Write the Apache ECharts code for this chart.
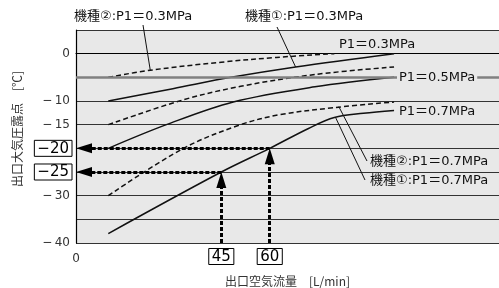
<!DOCTYPE html>
<html lang="ja">
<head>
<meta charset="UTF-8">
<title>出口大気圧露点</title>
<script src="https://cdn.jsdelivr.net/npm/echarts@6/dist/echarts.min.js"></script>
<style>
html, body { margin: 0; padding: 0; background: #fff; }
#chart { width: 499px; height: 288px; }
</style>
</head>
<body>
<div id="chart"></div>
<script>
// 出口空気流量 [L/min] / 出口大気圧露点 [℃]
const flowMin = 0;
const flowMax = 131;
const dewMin = -40;
const dewMax = 5;
const flowLabels = [0];
const flowBoxed = [45, 60];
const dewLabels = [0, -10, -15, -30, -40];
const dewBoxed = [-20, -25];

// 機種② : dashed, 機種① : solid
const model2P03 = [[10, -5], [23, -3.5], [45, -1.8], [62, -0.8], [80, 0]];
const model1P03 = [[10, -10], [30, -7.4], [48, -5], [68, -2.8], [98.5, 0]];
const model2P05 = [[10, -15], [33, -9.8], [51, -6.9], [74, -4.4], [98.5, -2.8]];
const model1P05 = [[10, -20], [28, -15], [48.7, -10.2], [74, -7.0], [98.5, -5]];
const model2P07 = [[10, -30], [33.3, -20], [51, -15], [63, -12.9], [80, -11.4], [98.5, -10.2]];
const model1P07 = [[10, -38], [45, -25], [60, -20], [72, -15.8], [80, -13.5], [89, -12.6], [98.5, -12.0]];

// 読み取り例
const readFlows = [45, 60];
const readDews = [-25, -20];

const chart = echarts.init(document.getElementById('chart'));
const gridLeft = 76, gridTop = 30, gridW = 423, gridH = 213;
const pxPerFlow = gridW / (flowMax - flowMin);
const pxPerDew = gridH / (dewMax - dewMin);
const arrowHalf = 8;
const latin = 'DejaVu Sans, Noto Sans CJK JP';

function curve(data, dashed) {
  return {
    type: 'line',
    data: data,
    smooth: 0.35,
    symbol: 'none',
    silent: true,
    lineStyle: { color: '#111', width: 1.5, type: dashed ? [5, 3] : 'solid' }
  };
}

const arrowLines = [];
readFlows.forEach(function (f, i) {
  arrowLines.push([{ coord: [f, readDews[i]] }, { coord: [flowMin + arrowHalf / pxPerFlow, readDews[i]] }]);
  arrowLines.push([{ coord: [f, dewMin] }, { coord: [f, readDews[i] - arrowHalf / pxPerDew] }]);
});

chart.setOption({
  animation: false,
  grid: {
    left: gridLeft, top: gridTop, width: gridW, height: gridH,
    outerBoundsMode: 'none', containLabel: false,
    show: true, backgroundColor: '#e8e8e8', borderWidth: 0
  },
  xAxis: {
    type: 'value', min: flowMin, max: flowMax, interval: 15,
    name: '出口空気流量　[L/min]', nameLocation: 'middle', nameGap: 32,
    nameTextStyle: { fontSize: 12, color: '#333', fontFamily: 'Noto Sans CJK JP' },
    axisLine: { show: true, lineStyle: { color: '#000', width: 1.2 } },
    axisTick: { show: false },
    splitLine: { show: false },
    axisLabel: {
      margin: 6,
      formatter: function (v) {
        if (flowBoxed.indexOf(v) >= 0) return '{b|' + v + '}';
        if (flowLabels.indexOf(v) >= 0) return '{n|' + v + '}';
        return '';
      },
      rich: {
        b: { fontSize: 15, color: '#000', fontFamily: latin, borderColor: '#000', borderWidth: 1, padding: [1, 3, 0, 3], lineHeight: 15 },
        n: { fontSize: 12, color: '#333', fontFamily: latin, padding: [4, 0, 0, 0] }
      }
    }
  },
  yAxis: {
    type: 'value', min: dewMin, max: dewMax, interval: 5,
    axisLine: { show: true, lineStyle: { color: '#000', width: 1.2 } },
    axisTick: { show: false },
    splitLine: { show: true, lineStyle: { color: '#333', width: 1 } },
    axisLabel: {
      margin: 4,
      formatter: function (v) {
        if (dewBoxed.indexOf(v) >= 0) return '{b|\u2212' + Math.abs(v) + '}';
        if (dewLabels.indexOf(v) >= 0) return v === 0 ? '{n|0}' : '{n|\u2212\u2009' + Math.abs(v) + '}';
        return '';
      },
      rich: {
        b: { fontSize: 15, color: '#000', fontFamily: latin, borderColor: '#000', borderWidth: 1, padding: [1, 3, 0, 3], lineHeight: 15 },
        n: { fontSize: 12, color: '#333', fontFamily: latin, padding: [0, 2, 0, 0] }
      }
    }
  },
  series: [
    {
      type: 'line', data: [], silent: true,
      markLine: {
        silent: true, symbol: 'none', label: { show: false },
        lineStyle: { color: '#808080', width: 2.5, type: 'solid' },
        data: [{ yAxis: -5 }]
      }
    },
    curve(model2P03, true),
    curve(model1P03, false),
    curve(model2P05, true),
    curve(model1P05, false),
    curve(model2P07, true),
    curve(model1P07, false),
    {
      type: 'line', data: [], silent: true,
      markLine: {
        silent: true, symbol: ['none', 'triangle'], symbolSize: [10, 16], label: { show: false },
        lineStyle: { color: '#000', width: 3, type: [4, 2] },
        data: arrowLines
      }
    }
  ]
});

function px(p) { return chart.convertToPixel({ gridIndex: 0 }, p); }
const txt = { fontSize: 13, fill: '#111', fontFamily: latin, verticalAlign: 'middle' };
function label(text, x, y, extra) {
  return { type: 'text', x: x, y: y, z: 100, style: Object.assign({ text: text }, txt, extra || {}) };
}
function leader(from, toData) {
  const t = px(toData);
  return { type: 'line', z: 100, shape: { x1: from[0], y1: from[1], x2: t[0], y2: t[1] }, style: { stroke: '#111', lineWidth: 1 } };
}

chart.setOption({
  graphic: [
    label('機種②:P1＝0.3MPa', 74, 17),
    label('機種①:P1＝0.3MPa', 245, 17),
    leader([143, 25], [23, -3.5]),
    leader([277, 27], [68, -2.8]),
    label('P1＝0.3MPa', 339, 45),
    label('P1＝0.5MPa', 397, 78, { backgroundColor: '#e8e8e8', padding: [1, 2] }),
    label('P1＝0.7MPa', 399, 112),
    label('機種②:P1＝0.7MPa', 370, 162),
    label('機種①:P1＝0.7MPa', 370, 181),
    leader([367, 161], [81.4, -11.2]),
    leader([365, 180], [80.4, -13.5]),
    {
      type: 'text', x: 17, y: 129, rotation: Math.PI / 2,
      style: { text: '出口大気圧露点　[℃]', fontSize: 12, fill: '#333', fontFamily: 'Noto Sans CJK JP', align: 'center', verticalAlign: 'middle' }
    }
  ]
});
</script>
</body>
</html>
